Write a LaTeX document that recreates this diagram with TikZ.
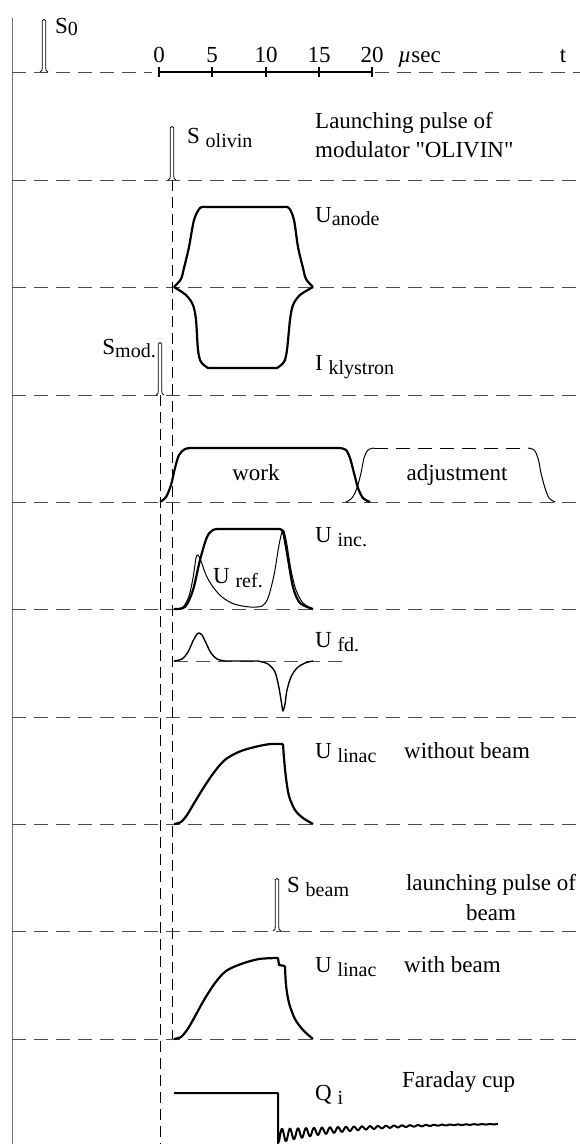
\documentclass[tikz,border=0pt]{standalone}
\usepackage{fontspec}
\setmainfont{Liberation Serif}
\newfontfamily\rawserif[Ligatures=TeXOff]{Liberation Serif}
\newcommand\sbs[2][-4pt]{\raisebox{#1}{\fontsize{20}{20}\selectfont #2}}
\newcommand\pulsespike[3]{%
 \draw[spikeline] ({#1-4},#2) .. controls ({#1-1.8},#2) and ({#1-1.8},{#2-2}) .. ({#1-1.8},{#2-7})
   -- ({#1-1.8},{#3+1.8}) .. controls ({#1-1.8},#3) and ({#1+1.8},#3) .. ({#1+1.8},{#3+1.8})
   -- ({#1+1.8},{#2-7}) .. controls ({#1+1.8},{#2-2}) and ({#1+1.8},#2) .. ({#1+4},#2);}
\begin{document}
\begin{tikzpicture}[x=1pt,y=-1pt,
  grid/.style={draw=black!70,line width=0.9pt,dash pattern=on 14pt off 8pt},
  vguide/.style={draw=black,line width=0.7pt,dash pattern=on 11pt off 6pt},
  spikeline/.style={draw=black,line width=0.8pt},
  sigbold/.style={draw=black,line width=2.2pt,line join=round},
  sigmid/.style={draw=black,line width=1.4pt,line join=round},
  sigthin/.style={draw=black,line width=1pt,line join=round},
  axisline/.style={draw=black,line width=1.5pt},
  lbl/.style={font=\fontsize{23}{26}\selectfont,inner sep=0pt,anchor=base west},
  lblc/.style={font=\fontsize{23}{26}\selectfont,inner sep=0pt,anchor=base}]
\useasboundingbox (0,0) rectangle (580,1144);
% left vertical line
\draw[black!55,line width=1pt] (12,18) -- (12,1144);
% horizontal dashed rows
\draw[grid] (12,72) -- (152,72);
\draw[grid] (375,72) -- (580,72);
\foreach \yy in {180,287,395,502,609,717,824,931,1039}
  \draw[grid] (12,\yy) -- (580,\yy);
\draw[grid] (174,661) -- (343,661);
% vertical guides
\draw[vguide] (172,180) -- (172,1039);
\draw[vguide] (160,395) -- (160,1144);
% time axis
\draw[axisline] (159,72) -- (372,72);
\foreach \xx/\tt in {159/0,212/5,266/10,319/15,372/20}{
  \draw[axisline] (\xx,67) -- (\xx,77);
  \node[lblc] (tick\tt) at (\xx,62) {\tt};}
\node[lbl] (usec) at (398,62) {\textit{µ}sec};
\node[lblc] (tlab) at (563,62) {t};
% spikes
\pulsespike{44}{72}{19}
\node[lbl] (s0) at (55,33) {S\sbs[-2pt]{0}};
\pulsespike{172}{180}{126}
\node[lbl] (solivin) at (187,143) {S \sbs{olivin}};
\node[lbl] (launch1) at (315,128) {Launching pulse of};
\node[lbl] (launch2) at (315,157) {modulator {\rawserif"OLIVIN"}};
% U anode / I klystron
\draw[sigbold] plot[smooth,tension=0.5] coordinates {(174,287) (181,279) (184,268) (189,247) (194,220) (200,208) (206,207)}
  -- (283,207) plot[smooth,tension=0.5] coordinates {(283,207) (289,208) (294,220) (298,247) (303,268) (306,279) (313,287)};
\draw[sigbold] plot[smooth,tension=0.5] coordinates {(174,287) (186,295) (193,305) (196,320) (198,350) (201,362) (208,368)}
  -- (277,368) plot[smooth,tension=0.5] coordinates {(277,368) (284,362) (287,350) (290,320) (293,305) (300,295) (313,287)};
\node[lbl] (uanode) at (315,222) {U\sbs[-3pt]{anode}};
\node[lbl] (iklys) at (315,370) {I \sbs{klystron}};
% S mod
\pulsespike{160}{395}{342}
\node[lbl,anchor=base east] (smod) at (156,354) {S\sbs[-3pt]{mod.}};
% work / adjustment
\draw[sigbold] plot[smooth,tension=0.5] coordinates {(160,502) (166,497) (171,485) (175,468) (179,455) (185,449) (192,448)}
  -- (340,448) plot[smooth,tension=0.5] coordinates {(340,448) (346,450) (350,458) (354,473) (358,488) (363,498) (370,502)};
\draw[sigthin] plot[smooth,tension=0.5] coordinates {(346,502) (352,498) (357,488) (361,473) (364,458) (368,450) (374,448)};
\draw[sigthin,dash pattern=on 14pt off 8pt] (374,448) -- (528,448);
\draw[sigthin] plot[smooth,tension=0.5] coordinates {(528,448) (534,450) (538,458) (541,473) (545,488) (549,498) (555,502)};
\node[lblc] (work) at (256,480) {work};
\node[lblc] (adjust) at (457,480) {adjustment};
% U inc / U ref
\draw[sigbold] plot[smooth,tension=0.5] coordinates {(174,609) (185,607) (193,590) (200,560) (207,537) (213,530) (220,529)}
  -- (279,529) plot[smooth,tension=0.5] coordinates {(279,529) (283,532) (287,553) (293,587) (300,603) (313,609)};
\draw[sigthin] plot[smooth,tension=0.5] coordinates {(174,609) (183,607) (189,596) (193,578) (196,558) (198,555) (201,561) (206,575) (213,587) (222,597) (234,604) (250,607) (262,606) (268,598) (274,575) (279,545) (282,532) (284,531) (287,545) (291,570) (296,590) (303,603) (313,609)};
\node[lbl] (uinc) at (315,542) {U \sbs{inc.}};
\node[lbl] (uref) at (213,583) {U \sbs{ref.}};
% U fd
\draw[sigmid] plot[smooth,tension=0.5] coordinates {(174,661) (182,659) (188,652) (193,641) (197,634) (199,633) (202,635) (206,643) (211,653) (217,659) (225,661)}
  -- (258,661) plot[smooth,tension=0.5] coordinates {(258,661) (268,664) (275,672) (279,688) (282,706) (283,711) (285,704) (287,690) (291,677) (297,668) (305,663) (313,661)};
\node[lbl] (ufd) at (315,647) {U \sbs{fd.}};
% U linac without beam
\draw[sigbold] plot[smooth,tension=0.5] coordinates {(174,824) (181,822) (187,815) (193,805) (204,787) (215,771) (226,759) (241,751) (259,746) (271,744) (283,744)}
  plot[smooth,tension=0.5] coordinates {(283,744) (284,758) (286,778) (289,796) (295,810) (303,818) (313,824)};
\node[lbl] (ulinac1) at (315,758) {U \sbs{linac}};
\node[lbl] (without) at (404,758) {without beam};
% S beam
\pulsespike{277}{931}{878}
\node[lbl] (sbeam) at (287,892) {S \sbs{beam}};
\node[lblc] (launchb1) at (491,890) {launching pulse of};
\node[lblc] (launchb2) at (491,920) {beam};
% U linac with beam
\draw[sigbold] plot[smooth,tension=0.5] coordinates {(174,1039) (181,1037) (187,1030) (193,1020) (204,1000) (215,983) (226,971) (241,964) (259,959) (278,958)}
  -- (279,965) -- (285,966) plot[smooth,tension=0.5] coordinates {(285,966) (286,985) (289,1003) (295,1019) (303,1030) (313,1039)};
\node[lbl] (ulinac2) at (315,972) {U \sbs{linac}};
\node[lbl] (withb) at (404,972) {with beam};
% Q i
\draw[sigbold,line width=2pt] (174,1093) -- (278,1093) -- (278,1143)
  -- plot[domain=0:220,samples=600] ({278+\x},{1123+13*exp(-\x/90)+7*exp(-\x/60)*cos(45*\x)});
\node[lbl] (qi) at (315,1100) {Q \sbs{i}};
\node[lbl] (faraday) at (402,1087) {Faraday cup};
\end{tikzpicture}
\end{document}
